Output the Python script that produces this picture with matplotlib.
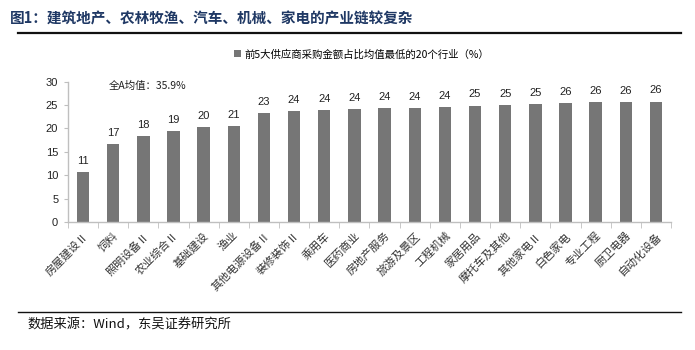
import matplotlib.pyplot as plt
import numpy as np

plt.rcParams['font.family'] = ['Noto Sans CJK SC', 'DejaVu Sans']
num_font = ['Liberation Sans', 'DejaVu Sans']

industries = ['房屋建设Ⅱ', '饲料', '照明设备Ⅱ', '农业综合Ⅱ', '基础建设', '渔业',
              '其他电源设备Ⅱ', '装修装饰Ⅱ', '乘用车', '医药商业', '房地产服务',
              '旅游及景区', '工程机械', '家居用品', '摩托车及其他', '其他家电Ⅱ',
              '白色家电', '专业工程', '厨卫电器', '自动化设备']
share = [10.7, 16.6, 18.35, 19.4, 20.3, 20.6, 23.3, 23.7, 24.0, 24.1, 24.3,
         24.4, 24.5, 24.9, 25.0, 25.2, 25.52, 25.6, 25.7, 25.75]
market_avg = 35.9

bar_color = '#767676'
axis_color = '#BFBFBF'
navy = '#1F3864'

fig = plt.figure(figsize=(6.95, 3.5), dpi=100)
ax = fig.add_axes([0.0978, 0.3657, 0.8677, 0.4009])

x = np.arange(len(industries))
ax.bar(x, share, width=0.41, color=bar_color,
       label='前5大供应商采购金额占比均值最低的20个行业（%）')
for xi, v in zip(x, share):
    ax.text(xi, v + 1.3, f'{round(v):d}', ha='center', va='bottom',
            fontsize=8, color='#222222', family=num_font)

ax.set_xlim(-0.5, len(industries) - 0.5)
ax.set_ylim(0, 30)
ax.set_yticks(range(0, 31, 5))
ax.set_yticklabels([str(v) for v in range(0, 31, 5)], family=num_font)
ax.set_xticks(x)
ax.set_xticklabels(industries, rotation=45, ha='right', rotation_mode='anchor',
                   fontsize=8, color='#333333')
ax.set_xticks(np.arange(-0.5, len(industries)), minor=True)
ax.tick_params(axis='x', which='major', length=0, pad=6)
ax.tick_params(axis='x', which='minor', length=4, color=axis_color, direction='out')
ax.tick_params(axis='y', length=3, color=axis_color, labelsize=8,
               labelcolor='#222222', pad=4)

for side in ['top', 'right']:
    ax.spines[side].set_visible(False)
for side in ['left', 'bottom']:
    ax.spines[side].set_color(axis_color)
    ax.spines[side].set_linewidth(1.0)

ax.text(0.85, 29.2, f'全A均值：{market_avg}%', fontsize=7.5, va='center',
        color='#222222')

fig.legend(loc='center', bbox_to_anchor=(0.52, 0.845), frameon=False,
           fontsize=7.5, handlelength=0.7, handleheight=0.7, handletextpad=0.3)

# header and footer
fig.text(0.014, 0.948, '图1：建筑地产、农林牧渔、汽车、机械、家电的产业链较复杂',
         fontsize=10.5, fontweight='bold', color=navy, va='center')
fig.add_artist(plt.Line2D([0.026, 0.98], [0.905, 0.905], color='#111111', lw=1.6))
fig.add_artist(plt.Line2D([0.026, 0.98], [0.11, 0.11], color='#111111', lw=1.0))
fig.text(0.04, 0.07, '数据来源：Wind，东吴证券研究所', fontsize=9.5,
         color='#111111', va='center')

fig.savefig('out.png', dpi=100)
